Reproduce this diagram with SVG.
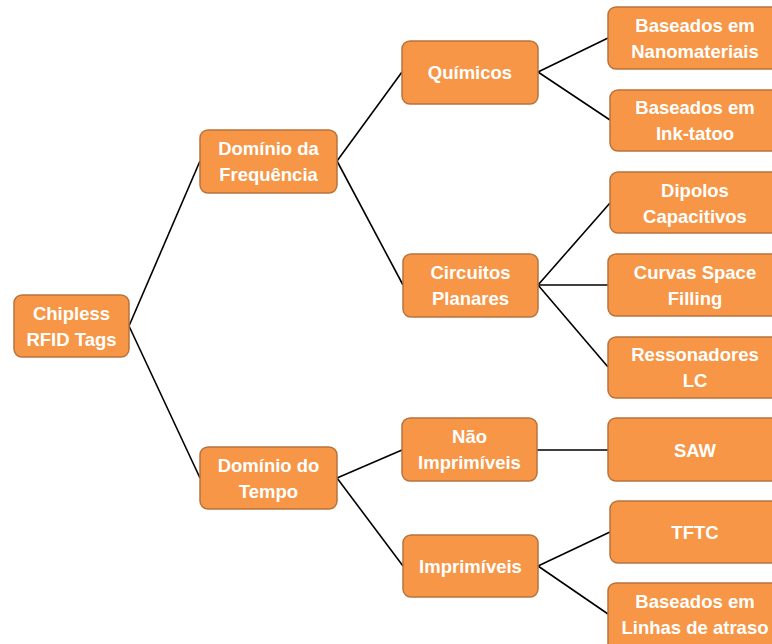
<svg xmlns="http://www.w3.org/2000/svg" width="772" height="644" viewBox="0 0 772 644">
  <style>
    .box { fill: #F79646; stroke: #B8733C; stroke-width: 1.5; }
    .lbl { font-family: "Liberation Sans", Arial, sans-serif; font-weight: bold; font-size: 18.5px; fill: #FFFFFF; text-anchor: middle; }
    .link { stroke: #000000; stroke-width: 1.6; fill: none; }
  </style>
  <rect width="772" height="644" fill="#FFFFFF"/>

  <g id="connectors">
    <line class="link" x1="129" y1="326" x2="200" y2="161"/>
    <line class="link" x1="129" y1="326" x2="200" y2="478"/>
    <line class="link" x1="337" y1="161" x2="402" y2="72"/>
    <line class="link" x1="337" y1="161" x2="403" y2="285"/>
    <line class="link" x1="337" y1="478" x2="402" y2="450"/>
    <line class="link" x1="337" y1="478" x2="403" y2="566"/>
    <line class="link" x1="538" y1="72" x2="608" y2="38"/>
    <line class="link" x1="538" y1="72" x2="610" y2="120"/>
    <line class="link" x1="538" y1="285" x2="610" y2="203"/>
    <line class="link" x1="538" y1="285" x2="608" y2="285"/>
    <line class="link" x1="538" y1="285" x2="608" y2="367"/>
    <line class="link" x1="537" y1="450" x2="608" y2="450"/>
    <line class="link" x1="538" y1="566" x2="610" y2="532"/>
    <line class="link" x1="538" y1="566" x2="608" y2="614"/>
  </g>

  <g id="root">
    <rect class="box" x="14" y="295" width="115" height="62" rx="8"/>
    <text class="lbl" x="71.5" y="320">Chipless</text>
    <text class="lbl" x="71.5" y="346">RFID Tags</text>
  </g>

  <g id="dominio-frequencia">
    <rect class="box" x="200" y="130" width="137" height="63" rx="8"/>
    <text class="lbl" x="268.5" y="155">Domínio da</text>
    <text class="lbl" x="268.5" y="181">Frequência</text>
  </g>

  <g id="dominio-tempo">
    <rect class="box" x="200" y="447" width="137" height="62" rx="8"/>
    <text class="lbl" x="268.5" y="472">Domínio do</text>
    <text class="lbl" x="268.5" y="498">Tempo</text>
  </g>

  <g id="quimicos">
    <rect class="box" x="402" y="41" width="136" height="63" rx="8"/>
    <text class="lbl" x="470" y="79">Químicos</text>
  </g>

  <g id="circuitos-planares">
    <rect class="box" x="403" y="254" width="135" height="63" rx="8"/>
    <text class="lbl" x="470.5" y="279">Circuitos</text>
    <text class="lbl" x="470.5" y="305">Planares</text>
  </g>

  <g id="nao-imprimiveis">
    <rect class="box" x="402" y="418" width="135" height="63" rx="8"/>
    <text class="lbl" x="469.5" y="443">Não</text>
    <text class="lbl" x="469.5" y="469">Imprimíveis</text>
  </g>

  <g id="imprimiveis">
    <rect class="box" x="403" y="535" width="135" height="62" rx="8"/>
    <text class="lbl" x="470.5" y="573">Imprimíveis</text>
  </g>

  <g id="nanomateriais">
    <rect class="box" x="608" y="7" width="174" height="62" rx="8"/>
    <text class="lbl" x="695" y="32">Baseados em</text>
    <text class="lbl" x="695" y="58">Nanomateriais</text>
  </g>

  <g id="ink-tatoo">
    <rect class="box" x="610" y="90" width="172" height="61" rx="8"/>
    <text class="lbl" x="695" y="114">Baseados em</text>
    <text class="lbl" x="695" y="140">Ink-tatoo</text>
  </g>

  <g id="dipolos">
    <rect class="box" x="610" y="172" width="172" height="61" rx="8"/>
    <text class="lbl" x="695" y="197">Dipolos</text>
    <text class="lbl" x="695" y="223">Capacitivos</text>
  </g>

  <g id="curvas">
    <rect class="box" x="608" y="254" width="174" height="62" rx="8"/>
    <text class="lbl" x="695" y="279">Curvas Space</text>
    <text class="lbl" x="695" y="305">Filling</text>
  </g>

  <g id="ressonadores">
    <rect class="box" x="608" y="337" width="174" height="61" rx="8"/>
    <text class="lbl" x="695" y="361">Ressonadores</text>
    <text class="lbl" x="695" y="387">LC</text>
  </g>

  <g id="saw">
    <rect class="box" x="608" y="418" width="174" height="63" rx="8"/>
    <text class="lbl" x="695" y="457">SAW</text>
  </g>

  <g id="tftc">
    <rect class="box" x="610" y="501" width="172" height="62" rx="8"/>
    <text class="lbl" x="695" y="539">TFTC</text>
  </g>

  <g id="linhas-atraso">
    <rect class="box" x="608" y="583" width="174" height="70" rx="8"/>
    <text class="lbl" x="695" y="608">Baseados em</text>
    <text class="lbl" x="695" y="634">Linhas de atraso</text>
  </g>
</svg>
